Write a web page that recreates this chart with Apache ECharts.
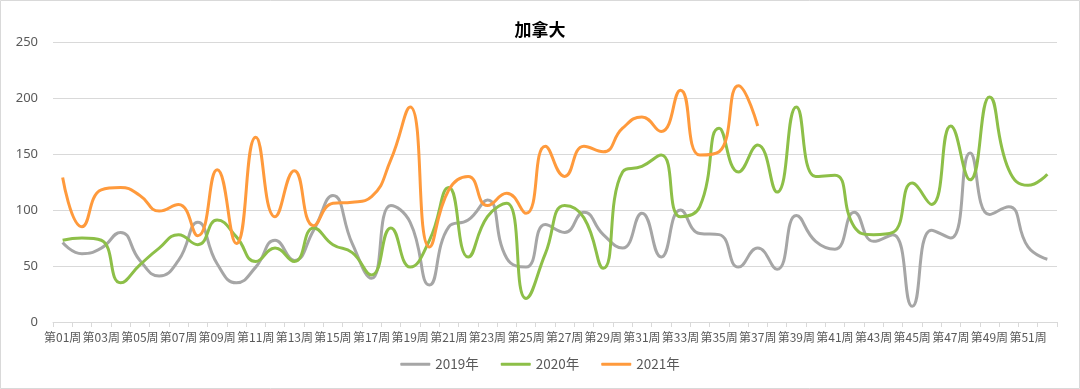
<!DOCTYPE html>
<html>
<head>
<meta charset="utf-8">
<script src="https://cdn.jsdelivr.net/npm/echarts@6/dist/echarts.min.js"></script>
<style>
html,body{margin:0;padding:0;background:#fff;}
#c{width:1080px;height:389px;}
</style>
</head>
<body>
<div id="c"></div>
<script>
var weeks = [];
for (var i = 1; i <= 52; i++) { weeks.push('第' + (i < 10 ? '0' + i : '' + i) + '周'); }

var yTicks = [0, 50, 100, 150, 200, 250];

var s2019 = [71, 61, 66, 80, 55, 41, 55, 89, 52, 35,
             49, 73, 55, 82, 113, 70, 39, 104, 89, 33,
             85, 91, 109, 57, 49, 87, 80, 98, 78, 66,
             97, 58, 100, 79, 78, 49, 66, 47, 95, 72,
             65, 98, 72, 78, 14, 82, 75, 151, 96, 103,
             67, 56];

var s2020 = [73, 75, 73, 35, 51, 66, 78, 69, 91, 76,
             54, 66, 54, 84, 69, 62, 42, 84, 49, 73,
             120, 58, 94, 106, 21, 61, 104, 93, 48, 134,
             139, 149, 94, 103, 173, 134, 158, 116, 192, 130,
             131, 85, 78, 80, 124, 105, 175, 127, 201, 136,
             122, 132];

var s2021 = [129, 85, 118, 120, 113, 99, 105, 77, 136, 70,
             165, 94, 135, 86, 106, 107, 112, 145, 192, 67,
             118, 130, 104, 115, 97, 157, 130, 157, 152, 173,
             183, 170, 207, 149, 152, 211, 175];

var seriesNames = ['2019年', '2020年', '2021年'];
var colors = ['#A6A6A6', '#8DBF48', '#FF9A3C'];

var chart = echarts.init(document.getElementById('c'), null, {renderer: 'canvas'});
function mkSeries(name, data, color) {
  return {
    name: name, type: 'line', data: data, smooth: 0.5,
    symbol: 'none', showSymbol: false,
    lineStyle: {color: color, width: 3},
    itemStyle: {color: color},
    emphasis: {disabled: true}
  };
}
chart.setOption({
  animation: false,
  backgroundColor: '#fff',
  title: {
    text: '加拿大', left: 'center', top: 16,
    textStyle: {fontSize: 17, fontWeight: 'bold', color: '#000', fontFamily: 'Noto Sans CJK SC'}
  },
  legend: {
    bottom: 13, left: 'center',
    itemWidth: 30, itemHeight: 3, itemGap: 22,
    icon: 'roundRect',
    textStyle: {fontSize: 13.5, color: '#595959', fontFamily: 'Noto Sans CJK SC'},
    data: seriesNames
  },
  graphic: [{
    type: 'rect', shape: {x: 0.5, y: 0.5, width: 1079, height: 388},
    style: {fill: 'none', stroke: '#D9D9D9', lineWidth: 1}, silent: true, z: 100
  }],
  grid: {left: 53, right: 23, top: 42, bottom: 67, containLabel: false},
  xAxis: {
    type: 'category', data: weeks, boundaryGap: true,
    axisLine: {lineStyle: {color: '#D9D9D9', width: 1}},
    axisTick: {show: true, alignWithLabel: false, interval: 0, length: 5, lineStyle: {color: '#D9D9D9'}},
    axisLabel: {
      interval: function (idx) { return idx % 2 === 0; },
      showMinLabel: true, hideOverlap: false,
      fontSize: 12, color: '#595959', margin: 9, fontFamily: 'Noto Sans CJK SC'
    }
  },
  yAxis: {
    type: 'value', min: yTicks[0], max: yTicks[yTicks.length - 1], interval: 50,
    axisLine: {show: false}, axisTick: {show: false},
    splitLine: {lineStyle: {color: '#D9D9D9', width: 1}},
    axisLabel: {fontSize: 13, color: '#595959', margin: 15, fontFamily: 'Noto Sans'}
  },
  series: [
    mkSeries(seriesNames[0], s2019, colors[0]),
    mkSeries(seriesNames[1], s2020, colors[1]),
    mkSeries(seriesNames[2], s2021, colors[2])
  ]
});
</script>
</body>
</html>
